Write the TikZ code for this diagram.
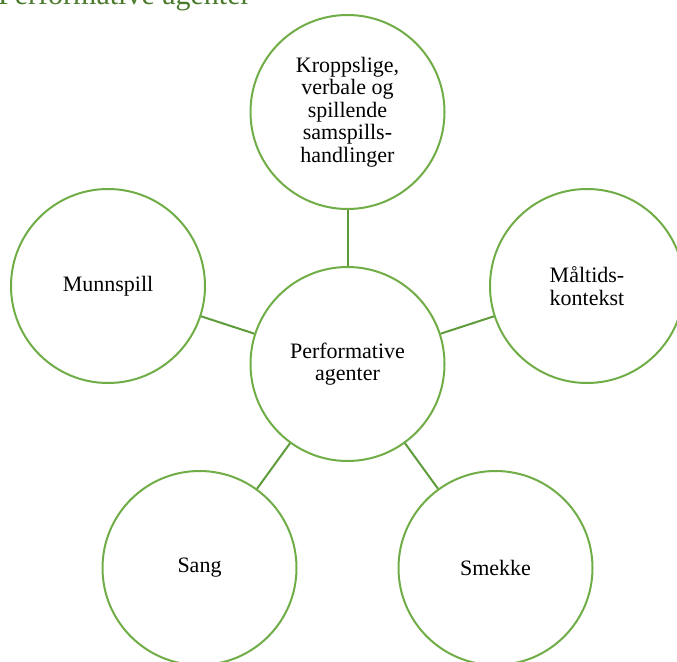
\documentclass[tikz,border=0pt]{standalone}
\usepackage{fontspec}
\setmainfont{Liberation Serif}
\definecolor{ringgreen}{HTML}{70AD47}
\definecolor{linkgreen}{HTML}{5E9B3A}
\definecolor{headgreen}{HTML}{4A7A2C}
\begin{document}
\begin{tikzpicture}[x=1pt,y=-1pt,
  bubble/.style={circle,draw=ringgreen,line width=2pt,fill=white,
    minimum size=194pt,inner sep=0pt,align=center,text=black,
    font=\fontsize{22}{22.5}\selectfont},
  link/.style={draw=linkgreen,line width=2pt},
  heading/.style={anchor=base west,inner sep=0pt,text=headgreen,
    font=\fontsize{30}{32}\selectfont}]
  \useasboundingbox (0,0) rectangle (677,661);
  \clip (0,0) rectangle (677,661);

  % heading of the section, its top running off the page
  \node[heading] (title) at (-2,5) {Performative agenter};

  % hub and satellites
  \node[bubble] (perf)   at (347.5,364) {Performative\\agenter};
  \node[bubble] (kropp)  at (347.5,112) {Kroppslige,\\verbale og\\spillende\\samspills-\\handlinger};
  \node[bubble] (maltid) at (587,286)   {Måltids-\\kontekst};
  \node[bubble] (munn)   at (108,286)   {Munnspill};
  \node[bubble] (sang)   at (199.5,568) {Sang};
  \node[bubble] (smekke) at (495.5,568) {Smekke};

  % spokes from the hub
  \draw[link] (perf) -- (kropp);
  \draw[link] (perf) -- (maltid);
  \draw[link] (perf) -- (munn);
  \draw[link] (perf) -- (sang);
  \draw[link] (perf) -- (smekke);
\end{tikzpicture}
\end{document}
